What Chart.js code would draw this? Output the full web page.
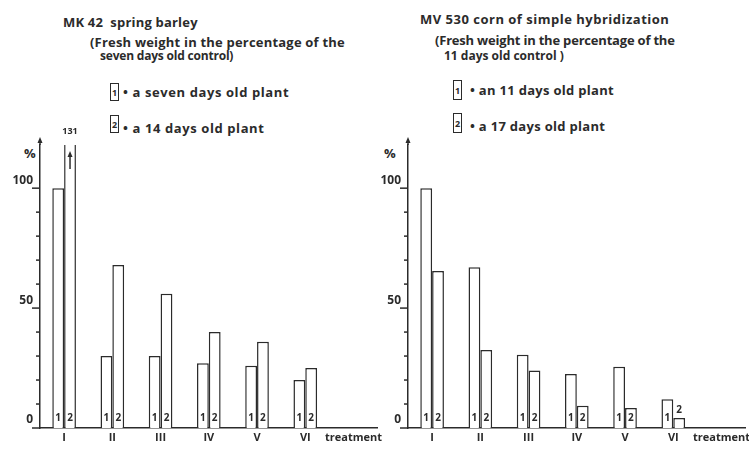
<!DOCTYPE html>
<html>
<head>
<meta charset="utf-8">
<script src="https://cdn.jsdelivr.net/npm/chart.js@4.4.0/dist/chart.umd.min.js"></script>
<style>
  body { margin: 0; width: 749px; height: 450px; overflow: hidden; background: #fff; position: relative;
         font-family: "Open Sans", sans-serif; font-weight: 700; color: #2b2b2b; }
  .t { position: absolute; font-size: 13px; line-height: 14px; white-space: nowrap; }
  .box { position: absolute; border: 1.5px solid #2b2b2b; box-sizing: border-box; font-size: 9px;
         display: flex; align-items: center; justify-content: center; }
  canvas { position: absolute; top: 0; }
</style>
</head>
<body>
<!-- left panel headings -->
<div class="t" style="left:63px;top:15px;letter-spacing:0.2px">MK 42&nbsp; spring barley</div>
<div class="t" style="left:90px;top:35px;letter-spacing:0.2px">(Fresh weight in the percentage of the</div>
<div class="t" style="left:100px;top:49px;font-size:12px;letter-spacing:-0.2px">seven days old control)</div>
<div class="box" style="left:110px;top:83px;width:9px;height:18px">1</div>
<div class="t" style="left:123px;top:85px;letter-spacing:0.6px">• a seven days old plant</div>
<div class="box" style="left:110px;top:115px;width:9px;height:18px">2</div>
<div class="t" style="left:123px;top:121px;letter-spacing:0.6px">• a 14 days old plant</div>
<div class="t" style="left:24px;top:146px">%</div>

<!-- right panel headings -->
<div class="t" style="left:420px;top:12px;letter-spacing:0.5px">MV 530 corn of simple hybridization</div>
<div class="t" style="left:435px;top:33px;letter-spacing:-0.2px">(Fresh weight in the percentage of the</div>
<div class="t" style="left:444px;top:49px;font-size:12px">11 days old control )</div>
<div class="box" style="left:453px;top:80px;width:9px;height:20px">1</div>
<div class="t" style="left:470px;top:83px;letter-spacing:0.3px">• an 11 days old plant</div>
<div class="box" style="left:453px;top:113px;width:9px;height:20px">2</div>
<div class="t" style="left:470px;top:119px;letter-spacing:0.3px">• a 17 days old plant</div>
<div class="t" style="left:384px;top:146px">%</div>

<canvas id="barley" width="385" height="450" style="left:0"></canvas>
<canvas id="corn" width="389" height="450" style="left:364px"></canvas>

<script>
const categories = ['I', 'II', 'III', 'IV', 'V', 'VI', 'treatment'];
const barleySeven = [100, 30, 30, 27, 26, 20, null];
const barleyFourteen = [131, 68, 56, 40, 36, 25, null];
const cornEleven = [100, 67, 30.5, 22.5, 25.5, 12, null];
const cornSeventeen = [65.5, 32.5, 24, 9.3, 8.3, 4.2, null];
const barNames = ['1', '2'];
const yTicks = [0, 10, 20, 30, 40, 50, 60, 70, 80, 90, 100];
const yLabels = { 0: '0', 50: '50', 100: '100' };
const yMax = 118;

const ink = '#2b2b2b';
Chart.defaults.font.family = '"Open Sans", sans-serif';
Chart.defaults.font.weight = '700';
Chart.defaults.color = ink;

// axis arrow, tick marks, bar numbers and the broken bar
const marks = {
    id: 'marks',
    afterDatasetsDraw(chart) {
        const ctx = chart.ctx;
        const area = chart.chartArea;
        const y = chart.scales.y;
        ctx.save();
        ctx.strokeStyle = ink;
        ctx.fillStyle = ink;
        ctx.lineWidth = 1.5;
        const ax = area.left;
        ctx.beginPath(); ctx.moveTo(ax, area.top); ctx.lineTo(ax, area.top - 4); ctx.stroke();
        ctx.beginPath(); ctx.moveTo(ax - 2.5, area.top - 2); ctx.lineTo(ax, area.top - 8); ctx.lineTo(ax + 2.5, area.top - 2); ctx.closePath(); ctx.fill();
        yTicks.forEach(v => {
            const py = y.getPixelForValue(v);
            const len = yLabels[v] ? 8 : 4;
            ctx.beginPath(); ctx.moveTo(ax - len, py); ctx.lineTo(ax, py); ctx.stroke();
        });

        ctx.font = '700 10px "Open Sans"';
        ctx.textAlign = 'center';
        ctx.textBaseline = 'middle';
        chart.data.datasets.forEach((ds, i) => {
            chart.getDatasetMeta(i).data.forEach((bar, j) => {
                const v = ds.data[j];
                if (v == null) return;
                if (bar.base - bar.y < 16) {
                    ctx.fillText(barNames[i], bar.x, bar.y - 8);
                } else {
                    ctx.fillText(barNames[i], bar.x, bar.base - 10);
                }
                if (v > yMax) {
                    //막대가 축을 넘으면 화살표와 값 표시
                    const top = area.top + 6;
                    ctx.beginPath(); ctx.moveTo(bar.x, top + 18); ctx.lineTo(bar.x, top + 4); ctx.stroke();
                    ctx.beginPath(); ctx.moveTo(bar.x - 2.5, top + 6); ctx.lineTo(bar.x, top); ctx.lineTo(bar.x + 2.5, top + 6); ctx.closePath(); ctx.fill();
                    ctx.font = '700 9px "Open Sans"';
                    ctx.fillText(String(v), bar.x, area.top - 14);
                    ctx.font = '700 10px "Open Sans"';
                }
            });
        });
        ctx.restore();
    }
};

const createChart = function (id, first, second, axisWidth) {
    return new Chart(document.getElementById(id), {
        type: 'bar',
        data: {
            labels: categories,
            datasets: [
                { data: first, backgroundColor: '#fff', borderColor: ink, borderWidth: 1.5 },
                { data: second, backgroundColor: '#fff', borderColor: ink, borderWidth: 1.5 }
            ]
        },
        options: {
            responsive: false,
            animation: false,
            layout: { padding: { top: 145, right: 0, left: 0, bottom: 0 } },
            categoryPercentage: 0.49,
            barPercentage: 1.0,
            plugins: { legend: { display: false }, tooltip: { enabled: false } },
            scales: {
                x: {
                    grid: { display: false, drawTicks: false },
                    border: { display: true, color: ink, width: 1.5 },
                    ticks: { padding: 3, font: { size: 11 }, maxRotation: 0, autoSkip: false },
                    afterFit(scale) { scale.height = 22; }
                },
                y: {
                    min: 0,
                    max: yMax,
                    grid: { display: false, drawTicks: false },
                    border: { display: true, color: ink, width: 1.5 },
                    ticks: {
                        padding: 7,
                        labelOffset: -8,
                        font: { size: 12 },
                        callback: v => yLabels[v] ?? ''
                    },
                    afterBuildTicks(scale) { scale.ticks = yTicks.map(v => ({ value: v })); },
                    afterFit(scale) { scale.width = axisWidth; }
                }
            }
        },
        plugins: [marks]
    });
};

createChart('barley', barleySeven, barleyFourteen, 40);
createChart('corn', cornEleven, cornSeventeen, 44);
</script>
</body>
</html>
